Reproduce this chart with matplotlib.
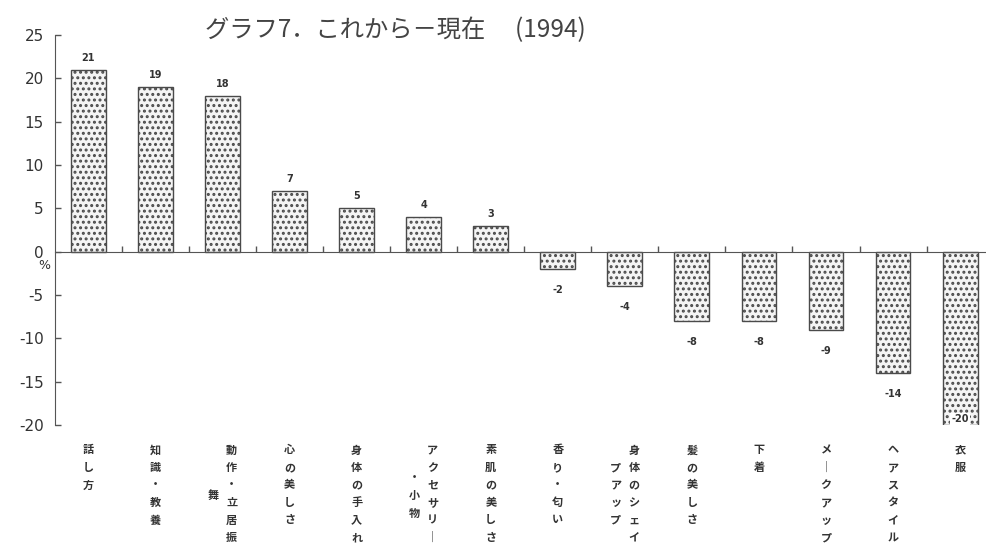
import matplotlib.pyplot as plt

plt.rcParams['font.family'] = ['Noto Sans CJK JP', 'DejaVu Sans']
plt.rcParams['axes.unicode_minus'] = False
plt.rcParams['hatch.linewidth'] = 1.4

categories = [
    "話し方", "知識・教養", "動作・立居振舞", "心の美しさ", "身体の手入れ",
    "アクセサリー・小物", "素肌の美しさ", "香り・匂い", "身体のシェイプアップ",
    "髪の美しさ", "下着", "メークアップ", "ヘアスタイル", "衣服",
]
values = [21, 19, 18, 7, 5, 4, 3, -2, -4, -8, -8, -9, -14, -20]
yticks = [25, 20, 15, 10, 5, 0, -5, -10, -15, -20]

# long labels wrap into a second (left) column: (chars in first column, start row of second)
wrap = {"動作・立居振舞": (6, 2.6), "アクセサリー・小物": (6, 1.6), "身体のシェイプアップ": (6, 1.0)}

fig = plt.figure(figsize=(9.87, 5.5), dpi=100)
ax = fig.add_axes([0.0557, 0.2273, 0.951, 0.7091])

x = range(len(values))
ax.bar(x, values, width=0.52, facecolor='#f4f4f4', edgecolor='#4a4a4a',
       linewidth=1.0, hatch='...')

ax.set_xlim(-0.5, len(values) - 0.5)
ax.set_ylim(-20, 25)
ax.set_yticks(yticks)
ax.tick_params(axis='y', direction='in', length=4, width=1, color='#555',
               labelsize=11, labelcolor='#333', pad=8)
for lab in ax.get_yticklabels():
    lab.set_family('DejaVu Sans')

# zero line with small marks between the bars
ax.spines['bottom'].set_position(('data', 0))
ax.spines['bottom'].set_color('#555')
ax.spines['left'].set_color('#555')
ax.spines['top'].set_visible(False)
ax.spines['right'].set_visible(False)
ax.set_xticks([i + 0.5 for i in range(len(values) - 1)])
ax.set_xticklabels([])
ax.tick_params(axis='x', direction='in', length=4, width=1, color='#555')

ax.annotate('%', xy=(0, 0), xycoords=('axes fraction', 'data'),
            xytext=(-8, -10), textcoords='offset points',
            ha='center', va='center', fontsize=9, color='#333', family='DejaVu Sans')

# value labels
px = 72 / 100
for i, v in enumerate(values):
    if v >= 0:
        ax.annotate(str(v), xy=(i, v), xytext=(0, 12 * px), textcoords='offset points',
                    ha='center', va='center', fontsize=7, fontweight='bold', color='#333',
                    family='DejaVu Sans')
    elif v - 2.3 < -20:
        ax.annotate(str(v), xy=(i, -20), xytext=(0, 6 * px), textcoords='offset points',
                    ha='center', va='center', fontsize=7, fontweight='bold', color='#333',
                    family='DejaVu Sans',
                    bbox=dict(boxstyle='square,pad=0.1', fc='white', ec='none'))
    else:
        ax.annotate(str(v), xy=(i, v), xytext=(0, -21 * px), textcoords='offset points',
                    ha='center', va='center', fontsize=7, fontweight='bold', color='#333',
                    family='DejaVu Sans')

# vertical category labels, one character per row
def column(i, chars, dx, start):
    for k, ch in enumerate(chars):
        ch = '｜' if ch == 'ー' else ch
        ax.annotate(ch, xy=(i, -20), xytext=(dx, -(25 + (start + k) * 17.5) * px),
                    textcoords='offset points', ha='center', va='center',
                    fontsize=8, fontweight='bold', color='#333', annotation_clip=False)

for i, name in enumerate(categories):
    if name in wrap:
        n, start = wrap[name]
        column(i, name[:n], 9 * px, 0)
        column(i, name[n:], -9 * px, start)
    else:
        column(i, name, 0, 0)

fig.text(0.208, 0.945, "グラフ7．これから－現在　 (1994)", ha='left', va='center',
         fontsize=17.5, color='#444')

fig.savefig('out.png', dpi=100)
